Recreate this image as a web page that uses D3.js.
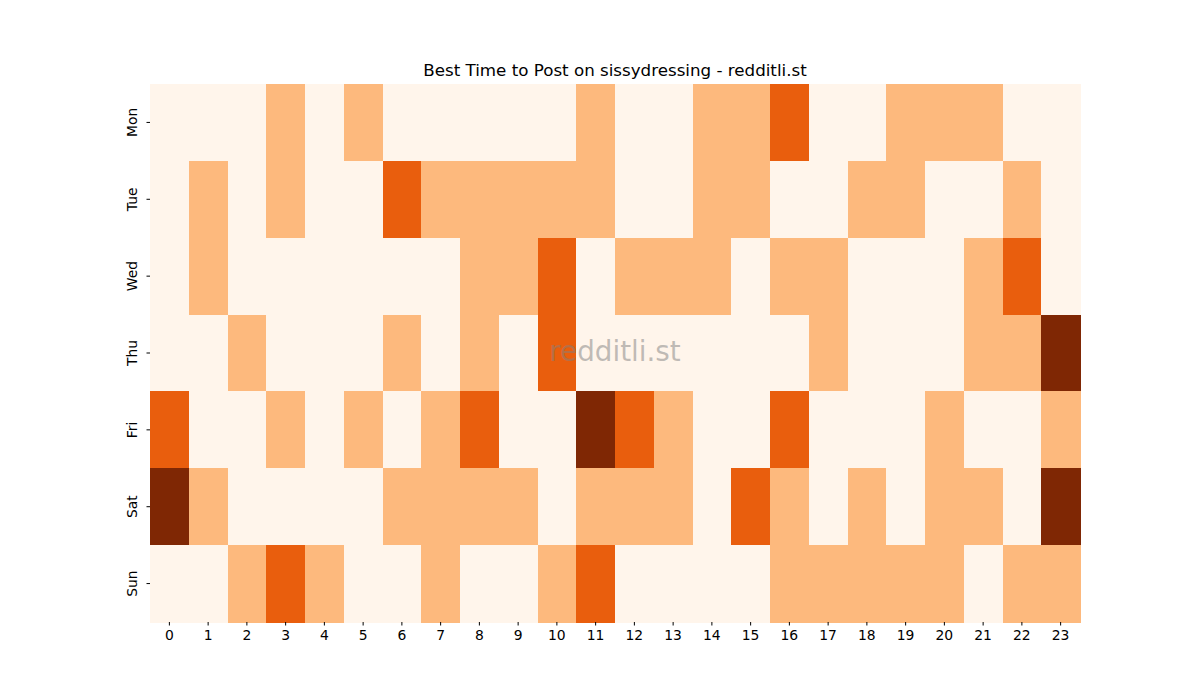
<!DOCTYPE html>
<html>
<head>
<meta charset="utf-8">
<script src="https://cdn.jsdelivr.net/npm/d3@7"></script>
<style>
  body { margin: 0; background: #fff; }
  text { font-family: "DejaVu Sans", sans-serif; }
</style>
</head>
<body>
<div id="chart"></div>
<script>
// posting activity level per day / hour (0-3)
const days = ['Mon', 'Tue', 'Wed', 'Thu', 'Fri', 'Sat', 'Sun']
const hours = d3.range(24)
const mon = [0,0,0,1,0,1,0,0,0,0,0,1,0,0,1,1,2,0,0,1,1,1,0,0]
const tue = [0,1,0,1,0,0,2,1,1,1,1,1,0,0,1,1,0,0,1,1,0,0,1,0]
const wed = [0,1,0,0,0,0,0,0,1,1,2,0,1,1,1,0,1,1,0,0,0,1,2,0]
const thu = [0,0,1,0,0,0,1,0,1,0,2,0,0,0,0,0,0,1,0,0,0,1,1,3]
const fri = [2,0,0,1,0,1,0,1,2,0,0,3,2,1,0,0,2,0,0,0,1,0,0,1]
const sat = [3,1,0,0,0,0,1,1,1,1,0,1,1,1,0,2,1,0,1,0,1,1,0,3]
const sun = [0,0,1,2,1,0,0,1,0,0,1,2,0,0,0,0,1,1,1,1,1,0,1,1]
const rows = [mon, tue, wed, thu, fri, sat, sun]

const margin = {top: 84, right: 120, bottom: 78, left: 150}
const width = 1200 - margin.left - margin.right
const height = 700 - margin.top - margin.bottom

const cells = []
rows.forEach((r, i) => r.forEach((v, h) => cells.push({day: days[i], hour: h, v: v})))

const x = d3.scaleBand().domain(hours).range([0, width])
const y = d3.scaleBand().domain(days).range([0, height])
const color = d3.scaleOrdinal()
	.domain([0, 1, 2, 3])
	.range(['#fff5eb', '#fdb97d', '#e95e0d', '#7f2704'])

const svg = d3.select('#chart').append('svg')
		.attr('width', 1200)
		.attr('height', 700)
	.append('g')
		.attr('transform', `translate(${margin.left},${margin.top})`)

svg.selectAll('rect')
	.data(cells)
	.enter().append('rect')
		.attr('x', d => x(d.hour))
		.attr('y', d => y(d.day))
		.attr('width', x.bandwidth() + 0.5)
		.attr('height', y.bandwidth() + 0.5)
		.attr('fill', d => color(d.v))
		.attr('shape-rendering', 'crispEdges')

// X Axis
const xAxis = svg.append('g')
	.attr('transform', `translate(0,${height})`)
	.call(d3.axisBottom(x).tickSize(3.5).tickPadding(5))
xAxis.select('.domain').remove()
xAxis.selectAll('text').attr('font-size', 13.9).attr('fill', '#000')
	.attr('font-family', '"DejaVu Sans", sans-serif')
xAxis.selectAll('line').attr('stroke', '#000')

// Y Axis
const yAxis = svg.append('g')
	.call(d3.axisLeft(y).tickSize(3.5).tickPadding(5))
yAxis.select('.domain').remove()
yAxis.selectAll('line').attr('stroke', '#000')
yAxis.selectAll('text')
	.attr('font-size', 13.9).attr('fill', '#000')
	.attr('font-family', '"DejaVu Sans", sans-serif')
	.attr('text-anchor', 'middle')
	.attr('dy', null)
	.attr('x', null)
	.attr('transform', 'translate(-13,0) rotate(-90)')
	.attr('dominant-baseline', 'auto')

// title
svg.append('text')
	.attr('x', width / 2)
	.attr('y', -8)
	.attr('text-anchor', 'middle')
	.attr('font-size', 16.7)
	.text('Best Time to Post on sissydressing - redditli.st')

// watermark
svg.append('text')
	.attr('x', width / 2)
	.attr('y', height / 2)
	.attr('text-anchor', 'middle')
	.attr('dominant-baseline', 'middle')
	.attr('font-size', 27.8)
	.attr('fill', '#808080')
	.attr('fill-opacity', 0.5)
	.text('redditli.st')
</script>
</body>
</html>
